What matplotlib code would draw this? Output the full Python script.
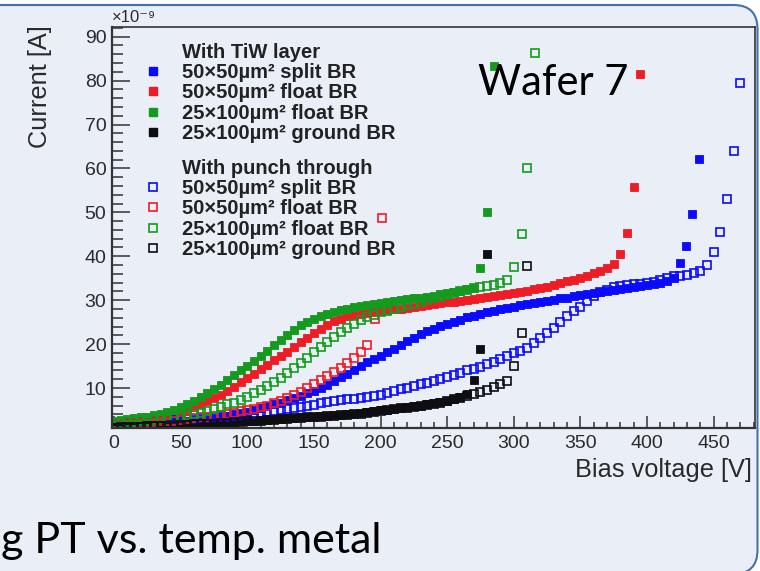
import numpy as np
import matplotlib
matplotlib.use('Agg')
import matplotlib.pyplot as plt
from matplotlib.patches import FancyBboxPatch
from matplotlib.lines import Line2D
from matplotlib.ticker import MultipleLocator
from matplotlib.transforms import IdentityTransform

plt.rcParams['font.family'] = ['Liberation Sans', 'DejaVu Sans']

# bias voltage [V] and current [1e-9 A]
# --- with TiW layer (filled markers) ---
v_tiw_split = np.r_[np.arange(0, 421, 5), [425, 429, 434, 439]]
i_tiw_split = [1.5, 1.6, 1.7, 1.8, 1.9, 2.0, 2.1, 2.2, 2.3, 2.4,
               2.5, 2.6, 2.7, 2.9, 3.0, 3.2, 3.4, 3.7, 4.0, 4.3,
               4.6, 5.0, 5.4, 5.8, 6.3, 6.7, 7.2, 7.7, 8.2, 8.8,
               9.4, 10.1, 10.8, 11.6, 12.4, 13.2, 14.1, 15.0, 15.9, 16.7,
               17.3, 18.1, 18.9, 19.8, 20.7, 21.5, 22.2, 22.9, 23.5, 24.1,
               24.6, 25.1, 25.6, 26.1, 26.5, 26.9, 27.3, 27.6, 27.9, 28.2,
               28.5, 28.8, 29.1, 29.4, 29.6, 29.9, 30.1, 30.4, 30.6, 30.9,
               31.1, 31.4, 31.6, 31.9, 32.1, 32.3, 32.6, 32.8, 33.0, 33.2,
               33.4, 33.6, 33.9, 34.3, 35.0,
               38.4, 42.4, 49.7, 62.2]

v_tiw_float = np.r_[np.arange(0, 376, 5), [380, 385, 390, 395]]
i_tiw_float = [2.0, 2.2, 2.4, 2.6, 2.8, 3.0, 3.3, 3.6, 3.9, 4.3,
               4.7, 5.2, 5.7, 6.3, 7.0, 7.7, 8.5, 9.4, 10.3, 11.3,
               12.3, 13.3, 14.3, 15.3, 16.3, 17.3, 18.3, 19.3, 20.4, 21.5,
               22.5, 23.5, 24.4, 25.2, 25.8, 26.3, 26.6, 26.9, 27.1, 27.3,
               27.5, 27.7, 27.9, 28.1, 28.3, 28.5, 28.7, 28.9, 29.1, 29.3,
               29.5, 29.7, 29.9, 30.1, 30.3, 30.5, 30.7, 30.9, 31.1, 31.3,
               31.6, 31.9, 32.2, 32.5, 32.8, 33.1, 33.5, 33.9, 34.3, 34.7,
               35.1, 35.6, 36.1, 36.7, 37.4, 38.3,
               40.6, 45.2, 55.8, 81.5]

v_tiw_long_float = np.r_[np.arange(0, 271, 5), [275, 280, 285]]
i_tiw_long_float = [2.5, 2.7, 2.9, 3.1, 3.3, 3.5, 3.8, 4.1, 4.5, 5.0,
                    5.6, 6.3, 7.1, 7.9, 8.8, 9.8, 10.8, 11.8, 12.9, 14.0,
                    15.1, 16.2, 17.3, 18.5, 19.7, 20.9, 22.1, 23.3, 24.3, 25.1,
                    25.8, 26.4, 26.9, 27.4, 27.8, 28.1, 28.4, 28.7, 29.0, 29.2,
                    29.4, 29.6, 29.8, 30.0, 30.2, 30.4, 30.6, 30.8, 31.0, 31.3,
                    31.6, 31.9, 32.2, 32.5, 32.8,
                    37.4, 50.1, 83.4]

v_tiw_long_ground = np.r_[np.arange(0, 266, 5), [270, 275, 280]]
i_tiw_long_ground = [1.1, 1.2, 1.2, 1.3, 1.3, 1.4, 1.4, 1.5, 1.5, 1.6,
                     1.6, 1.7, 1.8, 1.8, 1.9, 2.0, 2.1, 2.2, 2.3, 2.4,
                     2.5, 2.6, 2.7, 2.8, 2.9, 3.0, 3.1, 3.2, 3.3, 3.4,
                     3.5, 3.6, 3.7, 3.8, 3.9, 4.0, 4.2, 4.3, 4.5, 4.7,
                     4.9, 5.1, 5.3, 5.5, 5.6, 5.8, 6.0, 6.3, 6.5, 6.8,
                     7.0, 7.4, 7.9, 8.6,
                     11.8, 19.0, 40.5]

# --- with punch through (open markers) ---
v_pt_split = np.arange(0, 471, 5)
i_pt_split = [1.8, 1.9, 2.0, 2.1, 2.2, 2.3, 2.4, 2.5, 2.6, 2.7,
              2.8, 2.9, 3.0, 3.1, 3.2, 3.3, 3.4, 3.5, 3.6, 3.8,
              4.0, 4.2, 4.4, 4.6, 4.8, 5.0, 5.2, 5.4, 5.6, 5.9,
              6.2, 6.5, 6.8, 7.0, 7.2, 7.4, 7.6, 7.8, 8.0, 8.2,
              8.5, 8.9, 9.3, 9.7, 10.1, 10.5, 10.9, 11.2, 11.6, 12.0,
              12.5, 13.0, 13.5, 14.0, 14.4, 14.8, 15.4, 16.0, 16.7, 17.3,
              17.9, 18.5, 19.1, 20.2, 21.4, 22.5, 23.7, 25.0, 26.3, 27.5,
              28.5, 29.8, 31.0, 31.8, 32.4, 32.9, 33.2, 33.4, 33.6, 33.7,
              33.9, 34.2, 34.6, 35.0, 35.4, 35.5, 35.7, 36.2, 36.6, 38.0,
              41.0, 45.5, 53.0, 64.0, 79.5]

v_pt_float = np.r_[np.arange(0, 191, 5), [196, 201]]
i_pt_float = [1.8, 1.8, 1.9, 2.0, 2.1, 2.2, 2.3, 2.4, 2.5, 2.6,
              2.8, 2.9, 3.1, 3.3, 3.5, 3.7, 3.9, 4.2, 4.4, 4.7,
              5.0, 5.3, 5.6, 6.0, 6.6, 7.1, 7.8, 8.5, 9.2, 10.0,
              10.9, 11.8, 12.7, 13.6, 14.6, 15.6, 16.9, 18.3, 19.7,
              25.8, 48.6]

v_pt_long_float = np.r_[np.arange(0, 296, 5), [300, 306, 310, 316]]
i_pt_long_float = [2.0, 2.1, 2.2, 2.3, 2.4, 2.5, 2.7, 2.9, 3.1, 3.3,
                   3.5, 3.8, 4.1, 4.4, 4.8, 5.2, 5.7, 6.3, 6.7, 7.3,
                   8.0, 8.8, 9.6, 10.5, 11.4, 12.3, 13.4, 14.5, 15.7, 16.9,
                   18.1, 19.3, 20.5, 21.6, 22.7, 23.7, 24.6, 25.4, 26.1, 26.7,
                   27.2, 27.6, 28.0, 28.4, 28.8, 29.2, 29.6, 30.0, 30.4, 30.8,
                   31.2, 31.6, 32.0, 32.4, 32.7, 33.0, 33.2, 33.4, 33.9, 34.6,
                   37.6, 45.0, 60.0, 86.2]

v_pt_long_ground = np.r_[np.arange(0, 296, 5), [300, 306, 310]]
i_pt_long_ground = [1.0, 1.1, 1.1, 1.2, 1.2, 1.3, 1.3, 1.4, 1.4, 1.5,
                    1.5, 1.6, 1.7, 1.7, 1.8, 1.9, 2.0, 2.1, 2.2, 2.3,
                    2.4, 2.5, 2.6, 2.7, 2.8, 2.9, 3.0, 3.1, 3.2, 3.3,
                    3.4, 3.5, 3.6, 3.7, 3.8, 3.9, 4.1, 4.2, 4.4, 4.6,
                    4.8, 5.0, 5.2, 5.4, 5.5, 5.7, 5.9, 6.2, 6.4, 6.7,
                    7.0, 7.4, 7.8, 8.2, 8.6, 9.1, 9.6, 10.2, 11.0, 11.6,
                    15.0, 22.5, 37.8]

labels = ['50×50µm² split BR', '50×50µm² float BR',
          '25×100µm² float BR', '25×100µm² ground BR']
colors = ['#0a0aff', '#ee1c24', '#149a1e', '#0d0d12']

tiw = [(v_tiw_split, i_tiw_split), (v_tiw_float, i_tiw_float),
       (v_tiw_long_float, i_tiw_long_float), (v_tiw_long_ground, i_tiw_long_ground)]
pt = [(v_pt_split, i_pt_split), (v_pt_float, i_pt_float),
      (v_pt_long_float, i_pt_long_float), (v_pt_long_ground, i_pt_long_ground)]

W, H = 760, 571
fig = plt.figure(figsize=(W / 100, H / 100), dpi=100, facecolor='white')

def fx(x):
    return x / W

def fy(y):
    return 1 - y / H

# slide panel with rounded border
panel = FancyBboxPatch((-40, -3), 797.5, 569, boxstyle='round,pad=0,rounding_size=24',
                       transform=IdentityTransform(), facecolor='#e9eef7',
                       edgecolor='#4472a8', linewidth=1.5, zorder=0)
fig.add_artist(panel)

ax = fig.add_axes([fx(112), fy(428), fx(755) - fx(112), fy(27) - fy(428)])
ax.set_facecolor('none')
ax.set_zorder(2)

FILL_MS, OPEN_MS = 5.8, 5.8
for (v, i), c in zip(tiw, colors):
    ax.plot(v, i, ls='none', marker='s', ms=FILL_MS, mfc=c, mec=c, mew=0.6)
for (v, i), c in zip(pt, colors):
    ax.plot(v, i, ls='none', marker='s', ms=OPEN_MS, mfc='none', mec=c, mew=1.2)

ax.set_xlim(-1.5, 481)
ax.set_ylim(0.9, 92.2)
ax.xaxis.set_major_locator(MultipleLocator(50))
ax.xaxis.set_minor_locator(MultipleLocator(10))
ax.yaxis.set_major_locator(MultipleLocator(10))
ax.yaxis.set_minor_locator(MultipleLocator(2))

ax.tick_params(which='both', direction='in', colors='#333333', width=1.1,
               labelsize=14, labelcolor='#2a2a2a')
ax.tick_params(axis='x', which='major', length=8.6, pad=5)
ax.tick_params(axis='x', which='minor', length=4.3)
ax.tick_params(axis='y', which='major', length=13, pad=4)
ax.tick_params(axis='y', which='minor', length=8)
for s in ax.spines.values():
    s.set_color('#333333')
    s.set_linewidth(1.2)
ax.spines['left'].set_linewidth(1.6)
ax.spines['bottom'].set_linewidth(1.6)

# axis titles, ROOT style
fig.text(fx(40), fy(25), 'Current [A]', rotation=90, ha='center', va='top',
         fontsize=18.3, color='#2a2a2a')
fig.text(fx(752), fy(470), 'Bias voltage [V]', ha='right', va='center',
         fontsize=18.3, color='#2a2a2a')
fig.text(fx(112), fy(17), '×10⁻⁹', ha='left', va='center', fontsize=12,
         color='#2a2a2a')

# legends
def make_legend(header, marker_fill, top):
    hs = [Line2D([], [], ls='none', marker='')]
    for c in colors:
        if marker_fill:
            hs.append(Line2D([], [], ls='none', marker='s', ms=FILL_MS, mfc=c, mec=c))
        else:
            hs.append(Line2D([], [], ls='none', marker='s', ms=OPEN_MS, mfc='none',
                             mec=c, mew=1.2))
    leg = ax.legend(hs, [header] + labels, loc='upper left',
                    bbox_to_anchor=(fx(145), fy(top)), bbox_transform=fig.transFigure,
                    frameon=False, borderpad=0, borderaxespad=0, handlelength=0.8,
                    handletextpad=1.05, labelspacing=0.06,
                    prop={'size': 14.5, 'weight': 'bold'}, labelcolor='#222222')
    return leg

leg1 = make_legend('With TiW layer', True, 43)
ax.add_artist(leg1)
leg2 = make_legend('With punch through', False, 159)

# slide text
fig.text(fx(478), fy(95), 'Wafer 7', ha='left', va='baseline',
         fontfamily='Lato', fontsize=30, color='black')
fig.text(fx(1), fy(553), 'g PT vs. temp. metal', ha='left', va='baseline',
         fontfamily='Lato', fontsize=31, color='black')

fig.savefig('out.png', dpi=100, facecolor='white')
